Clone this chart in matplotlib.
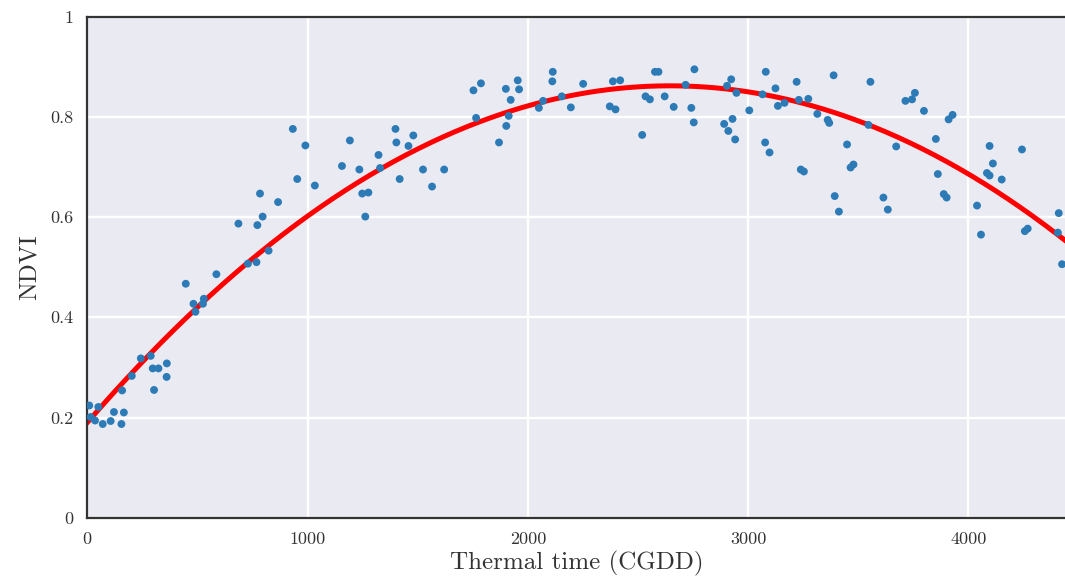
import numpy as np
import matplotlib
matplotlib.use("Agg")
import matplotlib.pyplot as plt
from matplotlib.ticker import FuncFormatter

# ---- data ----
cgdd = [9, 15, 35, 50, 70, 106, 121, 155, 166, 158, 202, 243, 288, 297, 323, 361, 360, 303,
        447, 482, 491, 529, 525, 586, 729, 768, 823, 686, 772, 796, 784, 866, 933, 990, 953,
        1033, 1156, 1192, 1235, 1248, 1276, 1262, 1322, 1329, 1399, 1403, 1458, 1480, 1418,
        1524, 1565, 1620, 1753, 1787, 1765, 1869, 1902, 1913, 1922, 1900, 1954, 1960, 2050,
        2069, 2111, 2113, 2154, 2195, 2251, 2386, 2419, 2372, 2398, 2519, 2577, 2593, 2534,
        2554, 2621, 2662, 2716, 2756, 2742, 2753, 2904, 2923, 2947, 2891, 2929, 2910, 2941,
        3005, 3065, 3080, 3124, 3135, 3165, 3077, 3097, 3220, 3230, 3273, 3314, 3361, 3368,
        3239, 3253, 3388, 3449, 3465, 3478, 3393, 3412, 3555, 3546, 3614, 3634, 3672, 3714,
        3744, 3757, 3798, 3852, 3861, 3888, 3901, 3910, 3928, 4096, 4111, 4084, 4096, 4151,
        4039, 4057, 4243, 4256, 4269, 4410, 4406, 4425]
ndvi = [0.224, 0.201, 0.194, 0.221, 0.187, 0.193, 0.211, 0.187, 0.210, 0.254, 0.283, 0.318,
        0.323, 0.298, 0.298, 0.308, 0.281, 0.255, 0.467, 0.427, 0.411, 0.437, 0.427, 0.486,
        0.507, 0.510, 0.533, 0.587, 0.584, 0.601, 0.647, 0.630, 0.776, 0.743, 0.676, 0.663,
        0.702, 0.753, 0.695, 0.647, 0.649, 0.601, 0.724, 0.698, 0.776, 0.749, 0.742, 0.763,
        0.676, 0.695, 0.661, 0.695, 0.853, 0.867, 0.798, 0.749, 0.782, 0.802, 0.834, 0.856,
        0.873, 0.855, 0.818, 0.832, 0.871, 0.890, 0.841, 0.819, 0.866, 0.871, 0.873, 0.821,
        0.815, 0.764, 0.890, 0.890, 0.841, 0.835, 0.841, 0.820, 0.864, 0.895, 0.818, 0.789,
        0.862, 0.875, 0.848, 0.786, 0.796, 0.772, 0.755, 0.813, 0.845, 0.890, 0.857, 0.822,
        0.828, 0.749, 0.729, 0.870, 0.834, 0.836, 0.806, 0.794, 0.788, 0.695, 0.691, 0.883,
        0.745, 0.699, 0.705, 0.642, 0.611, 0.870, 0.784, 0.639, 0.615, 0.741, 0.832, 0.835,
        0.848, 0.812, 0.756, 0.686, 0.646, 0.639, 0.795, 0.804, 0.742, 0.707, 0.688, 0.683,
        0.675, 0.623, 0.565, 0.735, 0.572, 0.577, 0.608, 0.569, 0.506]

# quadratic fit coefficients (highest power first)
fit_coef = [-9.6e-8, 5.08e-4, 0.19]

x_ticks = [0, 1000, 2000, 3000, 4000]
y_ticks = [0, 0.2, 0.4, 0.6, 0.8, 1.0]
x_max = 4448

# ---- style ----
plt.rcParams['font.family'] = ['cmr10', 'DejaVu Serif']
plt.rcParams['axes.formatter.use_mathtext'] = True
plt.rcParams['axes.unicode_minus'] = False

fig = plt.figure(figsize=(10.65, 5.81), dpi=100)
ax = fig.add_axes([87.3 / 1065, 1 - 517.7 / 581, 1 - 87.3 / 1065 + 0.002, (517.7 - 16.7) / 581])
ax.set_facecolor('#EAEAF2')
ax.set_axisbelow(True)
ax.grid(True, color='white', linewidth=1.7)

xs = np.linspace(0, x_max, 400)
ax.plot(xs, np.polyval(fit_coef, xs), color='red', linewidth=3.6, zorder=2)
ax.scatter(cgdd, ndvi, s=32, color='#2c7bb6', edgecolors='none', zorder=3)

ax.set_xlim(0, x_max)
ax.set_ylim(0, 1)
ax.set_xticks(x_ticks)
ax.set_yticks(y_ticks)
fmt = FuncFormatter(lambda v, p: '%g' % v)
ax.xaxis.set_major_formatter(fmt)
ax.yaxis.set_major_formatter(fmt)
ax.tick_params(length=0, labelsize=13, colors='#333333', pad=10)

for side in ['left', 'bottom', 'top']:
    ax.spines[side].set_color('#333333')
    ax.spines[side].set_linewidth(1.6)
ax.spines['right'].set_visible(False)

ax.set_xlabel('Thermal time (CGDD)', fontsize=18, color='#333333', labelpad=3)
ax.set_ylabel('NDVI', fontsize=18, color='#333333', labelpad=7)

fig.savefig('out.png', dpi=100)
